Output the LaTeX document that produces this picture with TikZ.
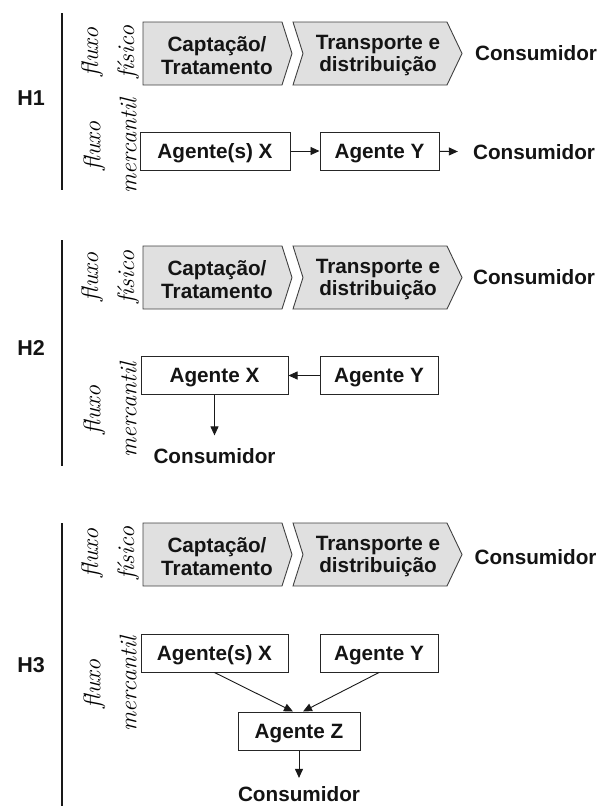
\documentclass[tikz,border=0pt]{standalone}
\usepackage{fontspec}
\newfontfamily\arialfont{Liberation Sans}
\usetikzlibrary{arrows.meta,calc}
\begin{document}
\begin{tikzpicture}[x=1pt,y=-1pt,
  sans/.style={font=\arialfont\bfseries\fontsize{20.7}{22.5}\selectfont, text=black!92, inner sep=0pt},
  lbl/.style={sans, text height=14.8pt, text depth=0pt},
  chev/.style={draw=black!75, line width=0.9pt, fill=black!12},
  ctext/.style={sans, align=center},
  agbox/.style={lbl, draw=black!85, line width=1pt, minimum height=38pt, fill=white},
  fl/.style={rotate=90, align=center, font=\itshape\fontsize{24}{36}\selectfont, text=black, inner sep=0pt},
  hlab/.style={font=\arialfont\bfseries\fontsize{21.5}{24}\selectfont, text=black!92, inner sep=0pt, text height=15.4pt, text depth=0pt},
  vline/.style={line width=2.6pt, black!90},
  arr/.style={line width=0.9pt, black!90, -{Triangle[length=9pt,width=8pt]}}
]
\useasboundingbox (0,0) rectangle (600,807);

% ---------- H1 ----------
\draw[vline] (62,13) -- (62,190);
\node[hlab] (h1) at (31,98) {H1};
\node[fl] (h1ff) at (110,52) {fluxo\\físico};
\node[fl] (h1fm) at (110,146) {fluxo\\mercantil};
\path[chev] (143,22) -- (282,22) -- (292,53.5) -- (282,85) -- (143,85) -- cycle;
\path[chev] (293,22) -- (447,22) -- (462,53.5) -- (447,85) -- (293,85) -- (303,53.5) -- cycle;
\node[ctext] (h1cap) at (217,55.5) {Captação/\\Tratamento};
\node[ctext] (h1tra) at (378,55.5) {Transporte e\\distribuição};
\node[lbl] (h1c1) at (536,53.5) {Consumidor};
\node[agbox, minimum width=150pt] (h1x) at (215,151) {Agente(s) X};
\node[agbox, minimum width=119pt] (h1y) at (379.5,151) {Agente Y};
\node[lbl] (h1c2) at (534,152) {Consumidor};
\draw[arr] (h1x) -- (h1y);
\draw[arr, shorten >=15pt] (h1y) -- (h1c2);

% ---------- H2 ----------
\draw[vline] (62,240) -- (62,466);
\node[hlab] (h2) at (31,348) {H2};
\node[fl] (h2ff) at (110,277) {fluxo\\físico};
\node[fl] (h2fm) at (110,410) {fluxo\\mercantil};
\begin{scope}[shift={(0,224)}]
\path[chev] (143,22) -- (282,22) -- (292,53.5) -- (282,85) -- (143,85) -- cycle;
\path[chev] (293,22) -- (447,22) -- (462,53.5) -- (447,85) -- (293,85) -- (303,53.5) -- cycle;
\node[ctext] (h2cap) at (217,55.5) {Captação/\\Tratamento};
\node[ctext] (h2tra) at (378,55.5) {Transporte e\\distribuição};
\end{scope}
\node[lbl] (h2c1) at (534,277) {Consumidor};
\node[agbox, minimum width=147pt] (h2x) at (214.5,375.5) {Agente X};
\node[agbox, minimum width=118pt] (h2y) at (379,375.5) {Agente Y};
\node[lbl] (h2c2) at (214.5,456) {Consumidor};
\draw[arr] (h2y) -- (h2x);
\draw[arr, shorten >=13pt] (h2x.south) -- (h2c2.north);

% ---------- H3 ----------
\draw[vline] (62,523) -- (62,806);
\node[hlab] (h3) at (31,665) {H3};
\node[fl] (h3ff) at (110,553) {fluxo\\físico};
\node[fl] (h3fm) at (110,684) {fluxo\\mercantil};
\begin{scope}[shift={(0,501)}]
\path[chev] (143,22) -- (282,22) -- (292,53.5) -- (282,85) -- (143,85) -- cycle;
\path[chev] (293,22) -- (447,22) -- (462,53.5) -- (447,85) -- (293,85) -- (303,53.5) -- cycle;
\node[ctext] (h3cap) at (217,55.5) {Captação/\\Tratamento};
\node[ctext] (h3tra) at (378,55.5) {Transporte e\\distribuição};
\end{scope}
\node[lbl] (h3c1) at (535.5,557) {Consumidor};
\node[agbox, minimum width=147pt] (h3x) at (214.5,653) {Agente(s) X};
\node[agbox, minimum width=118pt] (h3y) at (379,653) {Agente Y};
\node[agbox, minimum width=122pt] (h3z) at (299,731) {Agente Z};
\node[lbl] (h3c2) at (299,794.5) {Consumidor};
\draw[arr] (h3x.south) -- ([xshift=-6pt]h3z.north);
\draw[arr] (h3y.south) -- ([xshift=4pt]h3z.north);
\draw[arr, shorten >=9pt] (h3z.south) -- (h3c2.north);
\end{tikzpicture}
\end{document}
